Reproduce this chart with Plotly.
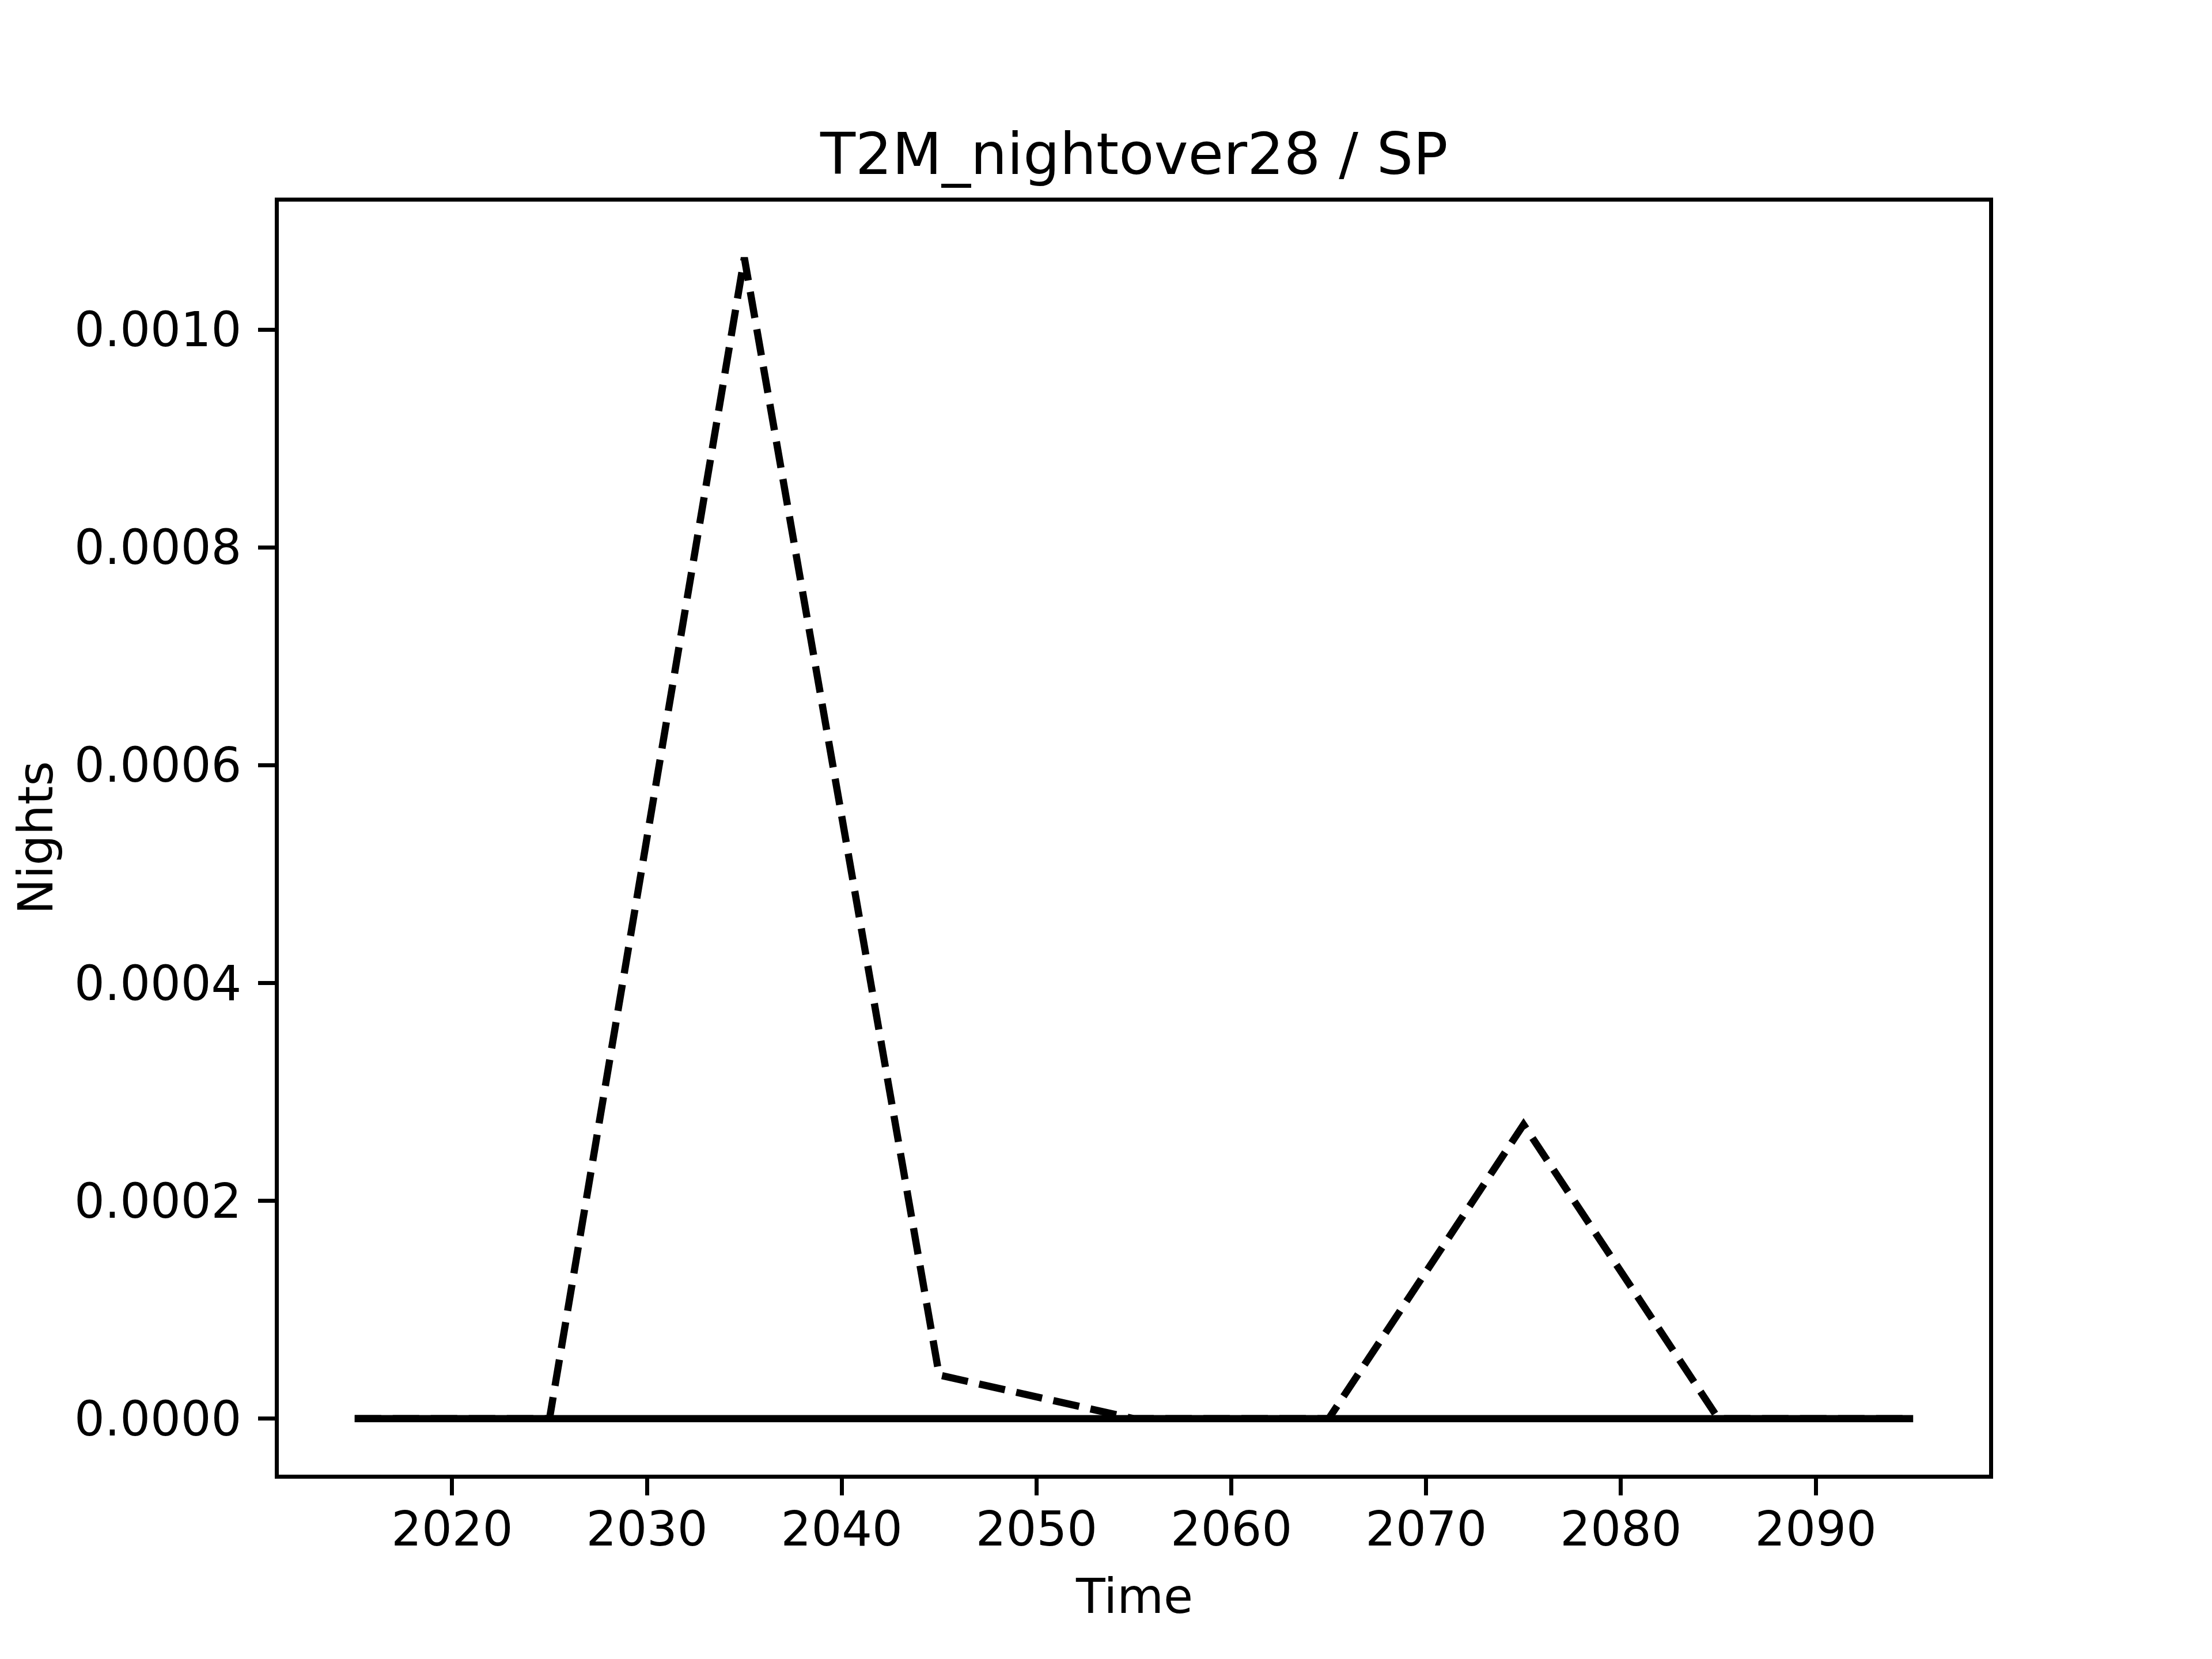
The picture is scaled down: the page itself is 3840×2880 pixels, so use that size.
import plotly.graph_objects as go

years = [2015, 2025, 2035, 2045, 2055, 2065, 2075, 2085, 2095]
dashed_vals = [0.0, 0.0, 0.001066, 0.00004, 0.0, 0.0, 0.00027, 0.0, 0.0]
solid_vals = [0.0, 0.0, 0.0, 0.0, 0.0, 0.0, 0.0, 0.0, 0.0]
x_ticks = [2020, 2030, 2040, 2050, 2060, 2070, 2080, 2090]
y_ticks = [0.0, 0.0002, 0.0004, 0.0006, 0.0008, 0.0010]
y_tick_text = ["0.0000", "0.0002", "0.0004", "0.0006", "0.0008", "0.0010"]

W, H = 3840, 2880
# axes box (line centres) as in the reference
BOX_L, BOX_R, BOX_T, BOX_B = 480, 3456.5, 346, 2564
LW = 7
half = LW / 2
L = BOX_L + half
R = W - (BOX_R - half)
T = BOX_T + half
B = H - (BOX_B - half)
FONT = "DejaVu Sans"

fig = go.Figure()
fig.add_trace(go.Scatter(x=years, y=dashed_vals, mode="lines",
                         line=dict(color="black", width=12.5, dash="46px,20px"),
                         showlegend=False))
fig.add_trace(go.Scatter(x=years, y=solid_vals, mode="lines",
                         line=dict(color="black", width=12.5),
                         showlegend=False))

# matplotlib-style 5% margins, mapped onto the box, then inset by half line width
ymax = max(max(dashed_vals), max(solid_vals))
ymin = min(min(dashed_vals), min(solid_vals))
span = ymax - ymin
y0, y1 = ymin - 0.05 * span, ymax + 0.05 * span
xspan = years[-1] - years[0]
x0, x1 = years[0] - 0.05 * xspan, years[-1] + 0.05 * xspan
xpp = (x1 - x0) / (BOX_R - BOX_L)
ypp = (y1 - y0) / (BOX_B - BOX_T)

fig.update_layout(
    width=W, height=H,
    margin=dict(l=L, r=R, t=T, b=B, pad=0),
    paper_bgcolor="white", plot_bgcolor="white",
    font=dict(family=FONT, size=83, color="black"),
    showlegend=False,
)
fig.update_xaxes(
    range=[x0 + half * xpp, x1 - half * xpp],
    tickvals=x_ticks, ticktext=[str(v) for v in x_ticks],
    ticks="outside", ticklen=29, tickwidth=LW, tickcolor="black",
    showline=True, linewidth=LW, linecolor="black", mirror=True,
    showgrid=False, zeroline=False,
    tickfont=dict(family=FONT, size=83, color="black"),
    ticklabelstandoff=-13,
)
fig.update_yaxes(
    range=[y0 + half * ypp, y1 - half * ypp],
    tickvals=y_ticks, ticktext=y_tick_text,
    ticks="outside", ticklen=29, tickwidth=LW, tickcolor="black",
    showline=True, linewidth=LW, linecolor="black", mirror=True,
    showgrid=False, zeroline=False,
    tickfont=dict(family=FONT, size=83, color="black"),
    ticklabelstandoff=12,
)

fig.add_annotation(text="T2M_nightover28 / SP", xref="paper", yref="paper",
                   x=0.5, y=1, yshift=22, xanchor="center", yanchor="bottom",
                   showarrow=False, font=dict(family=FONT, size=100, color="black"))
fig.add_annotation(text="Time", xref="paper", yref="paper",
                   x=0.5, y=0, yshift=-(2772 - (H - B)), xanchor="center", yanchor="middle",
                   showarrow=False, font=dict(family=FONT, size=83, color="black"))
fig.add_annotation(text="Nights", xref="paper", yref="paper",
                   x=0, y=0.5, xshift=-(L - 61), xanchor="center", yanchor="middle",
                   textangle=-90,
                   showarrow=False, font=dict(family=FONT, size=83, color="black"))

fig.write_html("out.html", config={"displayModeBar": False},
               post_script="document.body.style.margin='0px';")
